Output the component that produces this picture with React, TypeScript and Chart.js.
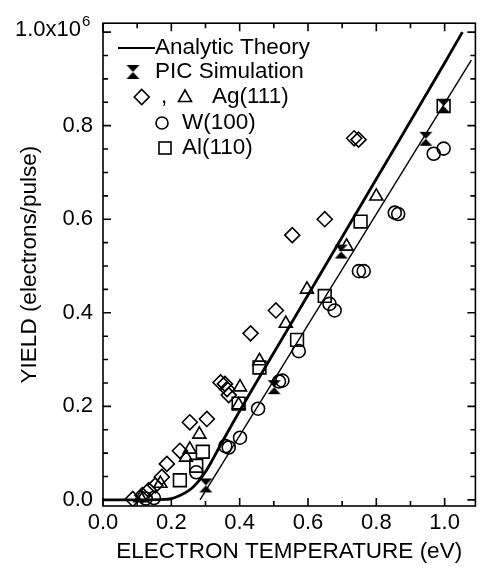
import React, { useEffect, useRef } from 'react';
import { Chart, registerables } from 'chart.js';

Chart.register(...registerables);

const FONT = "'Liberation Sans', Arial, Helvetica, sans-serif";

// Analytic theory curve (thick)
const theoryX = [0, 0.10, 0.18, 0.20, 0.22, 0.24, 0.26, 0.28, 0.30, 0.32, 0.34, 0.40, 0.60, 0.80, 1.00, 1.052];
const theoryY = [0, 0, 0.001, 0.003, 0.008, 0.015, 0.025, 0.040, 0.060, 0.085, 0.112, 0.19, 0.438, 0.686, 0.934, 1.0];

// Thin straight line through PIC results
const fitX = [0.284, 1.078];
const fitY = [0, 0.94];

// PIC simulation
const picX = [0.301, 0.501, 0.697, 0.945, 0.997];
const picY = [0.031, 0.241, 0.531, 0.772, 0.842];

// Ag(111) diamonds
const agDiaX = [0.087, 0.115, 0.134, 0.153, 0.172, 0.187, 0.225, 0.254, 0.304, 0.344, 0.357, 0.363, 0.368, 0.432, 0.506, 0.554, 0.649, 0.735, 0.748];
const agDiaY = [0.002, 0.010, 0.021, 0.031, 0.049, 0.077, 0.105, 0.166, 0.173, 0.251, 0.248, 0.237, 0.224, 0.356, 0.405, 0.566, 0.600, 0.773, 0.770];

// Ag(111) triangles
const agTriX = [0.110, 0.168, 0.243, 0.254, 0.282, 0.397, 0.401, 0.458, 0.535, 0.597, 0.713, 0.800];
const agTriY = [0.004, 0.035, 0.091, 0.108, 0.140, 0.203, 0.241, 0.297, 0.377, 0.450, 0.542, 0.649];

// W(100) circles
const wX = [0.125, 0.149, 0.273, 0.358, 0.368, 0.401, 0.454, 0.515, 0.525, 0.573, 0.663, 0.678, 0.749, 0.763, 0.854, 0.864, 0.968, 0.997];
const wY = [0.003, 0.004, 0.059, 0.115, 0.112, 0.133, 0.195, 0.253, 0.255, 0.318, 0.419, 0.405, 0.489, 0.489, 0.614, 0.611, 0.740, 0.751];

// Al(110) squares
const alX = [0.225, 0.273, 0.292, 0.397, 0.458, 0.568, 0.649, 0.754, 0.997];
const alY = [0.042, 0.073, 0.103, 0.206, 0.283, 0.342, 0.436, 0.595, 0.842];

// Axis ticks
const xTickValues = [0, 0.2, 0.4, 0.6, 0.8, 1.0];
const xMinorTicks = [0.1, 0.3, 0.5, 0.7, 0.9];
const yTickValues = [0, 0.2, 0.4, 0.6, 0.8, 1.0];
const yMinorTicks = [0.05, 0.1, 0.15, 0.25, 0.3, 0.35, 0.45, 0.5, 0.55, 0.65, 0.7, 0.75, 0.85, 0.9, 0.95];

const pts = (xs: number[], ys: number[]) => xs.map((x, i) => ({ x, y: ys[i] }));

function makeBowtie(hw: number, hh: number): HTMLCanvasElement {
  const c = document.createElement('canvas');
  c.width = Math.ceil(hw * 2 + 2);
  c.height = Math.ceil(hh * 2 + 2);
  const ctx = c.getContext('2d')!;
  const cx = c.width / 2;
  const cy = c.height / 2;
  ctx.fillStyle = '#000';
  ctx.beginPath();
  ctx.moveTo(cx - hw, cy - hh);
  ctx.lineTo(cx + hw, cy - hh);
  ctx.lineTo(cx, cy);
  ctx.closePath();
  ctx.fill();
  ctx.beginPath();
  ctx.moveTo(cx - hw, cy + hh);
  ctx.lineTo(cx + hw, cy + hh);
  ctx.lineTo(cx, cy);
  ctx.closePath();
  ctx.fill();
  return c;
}

export default function App() {
  const ref = useRef<HTMLCanvasElement | null>(null);

  useEffect(() => {
    document.body.style.margin = '0';
    const canvas = ref.current;
    if (!canvas) return;
    const bowtie = makeBowtie(6.5, 7);

    const framePlugin = {
      id: 'frameTicks',
      afterDraw(chart: any) {
        const { ctx, chartArea } = chart;
        const { left, right, top, bottom } = chartArea;
        const xs = chart.scales.x;
        const ys = chart.scales.y;
        ctx.save();
        ctx.strokeStyle = '#000';
        ctx.lineWidth = 1.6;
        ctx.strokeRect(left, top, right - left, bottom - top);
        const major = 8;
        const minor = 5;
        ctx.beginPath();
        xTickValues.forEach((v) => {
          const p = xs.getPixelForValue(v);
          ctx.moveTo(p, bottom); ctx.lineTo(p, bottom - major);
          ctx.moveTo(p, top); ctx.lineTo(p, top + major);
        });
        xMinorTicks.forEach((v) => {
          const p = xs.getPixelForValue(v);
          ctx.moveTo(p, bottom); ctx.lineTo(p, bottom - minor);
          ctx.moveTo(p, top); ctx.lineTo(p, top + minor);
        });
        yTickValues.forEach((v) => {
          const p = ys.getPixelForValue(v);
          ctx.moveTo(left, p); ctx.lineTo(left + major, p);
          ctx.moveTo(right, p); ctx.lineTo(right - major, p);
        });
        yMinorTicks.forEach((v) => {
          const p = ys.getPixelForValue(v);
          ctx.moveTo(left, p); ctx.lineTo(left + minor, p);
          ctx.moveTo(right, p); ctx.lineTo(right - minor, p);
        });
        ctx.stroke();

        ctx.fillStyle = '#000';
        // Top y label with superscript exponent
        const pTop = ys.getPixelForValue(1.0);
        ctx.textBaseline = 'middle';
        ctx.textAlign = 'right';
        ctx.font = `22px ${FONT}`;
        ctx.fillText('1.0x10', 81, pTop - 2);
        ctx.textAlign = 'left';
        ctx.font = `15px ${FONT}`;
        ctx.fillText('6', 82, pTop - 10);

        // Legend
        ctx.font = `22.5px ${FONT}`;
        ctx.textBaseline = 'middle';
        ctx.textAlign = 'left';
        ctx.lineWidth = 2;
        ctx.beginPath();
        ctx.moveTo(118, 48); ctx.lineTo(155, 48);
        ctx.stroke();
        ctx.fillText('Analytic Theory', 155, 48);
        ctx.drawImage(bowtie, 133 - bowtie.width / 2, 72 - bowtie.height / 2);
        ctx.fillText('PIC Simulation', 155, 72);
        ctx.lineWidth = 1.6;
        ctx.beginPath();
        ctx.moveTo(141.7 - 7.5, 97); ctx.lineTo(141.7, 97 - 7.5); ctx.lineTo(141.7 + 7.5, 97); ctx.lineTo(141.7, 97 + 7.5); ctx.closePath();
        ctx.stroke();
        ctx.fillText(',', 161, 97);
        ctx.beginPath();
        ctx.moveTo(185, 97 - 7); ctx.lineTo(185 + 6.5, 97 + 4.5); ctx.lineTo(185 - 6.5, 97 + 4.5); ctx.closePath();
        ctx.stroke();
        ctx.fillText('Ag(111)', 212, 97);
        ctx.beginPath();
        ctx.arc(162, 123, 6, 0, Math.PI * 2);
        ctx.stroke();
        ctx.fillText('W(100)', 182, 123);
        ctx.strokeRect(159, 142, 12, 12);
        ctx.fillText('Al(110)', 182, 148);
        ctx.restore();
      },
    };

    const markerBase = {
      showLine: false,
      borderColor: '#000',
      backgroundColor: 'rgba(0,0,0,0)',
      borderWidth: 1.6,
    };

    const chart = new Chart(canvas, {
      type: 'scatter',
      data: {
        datasets: [
          {
            label: 'Analytic Theory',
            data: pts(theoryX, theoryY),
            showLine: true,
            borderColor: '#000',
            borderWidth: 2.8,
            pointRadius: 0,
            cubicInterpolationMode: 'monotone',
            fill: false,
          } as any,
          {
            label: 'Fit',
            data: pts(fitX, fitY),
            showLine: true,
            borderColor: '#000',
            borderWidth: 1.4,
            pointRadius: 0,
            fill: false,
          },
          { label: 'PIC Simulation', data: pts(picX, picY), ...markerBase, pointStyle: bowtie as any, pointRadius: 7 },
          { label: 'Ag(111) diamond', data: pts(agDiaX, agDiaY), ...markerBase, pointStyle: 'rectRot', pointRadius: 7.5 },
          { label: 'Ag(111) triangle', data: pts(agTriX, agTriY), ...markerBase, pointStyle: 'triangle', pointRadius: 7.5 },
          { label: 'W(100)', data: pts(wX, wY), ...markerBase, pointStyle: 'circle', pointRadius: 6.5 },
          { label: 'Al(110)', data: pts(alX, alY), ...markerBase, pointStyle: 'rect', pointRadius: 9 },
        ],
      },
      options: {
        animation: false,
        responsive: false,
        devicePixelRatio: 1,
        layout: { padding: { top: 13, right: 2, left: 0, bottom: 0 } },
        plugins: { legend: { display: false }, tooltip: { enabled: false } },
        scales: {
          x: {
            type: 'linear',
            min: 0,
            max: 1.09,
            grid: { display: false, drawTicks: false },
            border: { display: false },
            afterBuildTicks: (s: any) => { s.ticks = xTickValues.map((v) => ({ value: v })); },
            afterFit: (s: any) => { s.height = 62; },
            ticks: {
              color: '#000',
              font: { family: FONT, size: 22 },
              padding: 4,
              maxRotation: 0,
              autoSkip: false,
              callback: (v: any) => Number(v).toFixed(1),
            },
            title: {
              display: true,
              text: 'ELECTRON TEMPERATURE (eV)',
              color: '#000',
              font: { family: FONT, size: 22.5 },
              padding: { top: 0, bottom: 3 },
            },
          },
          y: {
            type: 'linear',
            min: -0.013,
            max: 1.019,
            grid: { display: false, drawTicks: false },
            border: { display: false },
            afterBuildTicks: (s: any) => { s.ticks = yTickValues.map((v) => ({ value: v })); },
            afterFit: (s: any) => { s.width = 103; },
            ticks: {
              color: '#000',
              font: { family: FONT, size: 22 },
              padding: 10,
              autoSkip: false,
              callback: (v: any) => (Math.abs(Number(v) - 1) < 1e-9 ? '' : Number(v).toFixed(1)),
            },
            title: {
              display: true,
              text: 'YIELD (electrons/pulse)',
              color: '#000',
              font: { family: FONT, size: 22.5 },
              padding: { top: 16, bottom: 0 },
            },
          },
        },
      },
      plugins: [framePlugin],
    });

    return () => chart.destroy();
  }, []);

  return (
    <div style={{ width: 486, height: 568, background: '#fff' }}>
      <canvas ref={ref} width={486} height={568} style={{ display: 'block' }} />
    </div>
  );
}
